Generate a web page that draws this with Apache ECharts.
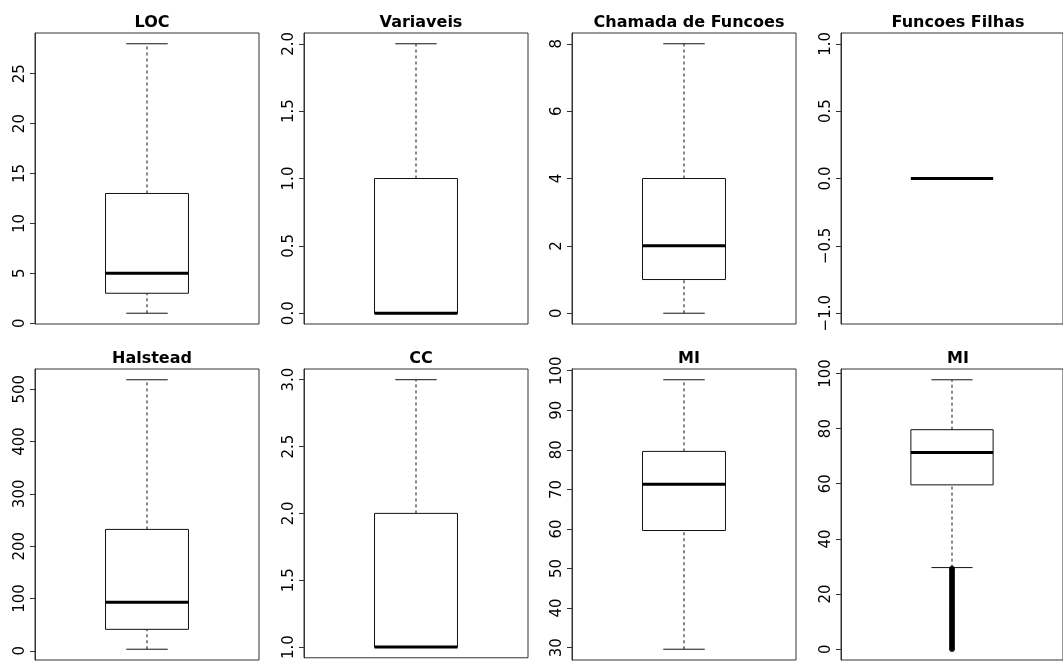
<!DOCTYPE html>
<html>
<head>
<meta charset="utf-8">
<script src="https://cdn.jsdelivr.net/npm/echarts@6/dist/echarts.min.js"></script>
<style>
  html, body { margin: 0; padding: 0; background: #fff; }
  #chart { width: 1063px; height: 662px; }
</style>
</head>
<body>
<div id="chart"></div>
<script>
// Panel titles, in row order (4 per row)
const titles = ['LOC', 'Variaveis', 'Chamada de Funcoes', 'Funcoes Filhas',
                'Halstead', 'CC', 'MI', 'MI'];

// Five-number summaries: [lower whisker, Q1, median, Q3, upper whisker]
const locStats       = [1, 3, 5, 13, 28];
const variaveisStats = [0, 0, 0, 1, 2];
const chamadaStats   = [0, 1, 2, 4, 8];
const filhasStats    = [0, 0, 0, 0, 0];
const halsteadStats  = [3, 41, 93, 232, 518];
const ccStats        = [1, 1, 1, 2, 3];
const miStats        = [29.6, 59.6, 71.3, 79.6, 97.7];

// MI values below the lower whisker (shown only in the last panel)
const miOutliers = [0, 0.3, 0.8, 1.1, 1.7, 2.0, 2.6, 3.1, 3.4, 4.0, 4.3, 4.9,
  5.2, 5.8, 6.3, 6.6, 7.2, 7.5, 8.1, 8.4, 9.0, 9.5, 9.8, 10.4, 10.7, 11.3,
  11.6, 12.2, 12.7, 13.0, 13.6, 13.9, 14.5, 14.8, 15.4, 15.9, 16.2, 16.8,
  17.1, 17.7, 18.0, 18.6, 19.1, 19.4, 20.0, 20.3, 20.9, 21.2, 21.8, 22.3,
  22.6, 23.2, 23.5, 24.1, 24.4, 25.0, 25.5, 25.8, 26.4, 26.7, 27.3, 27.6,
  28.2, 28.7, 29.0, 29.3];

// Tick positions per panel
const locTicks       = [0, 5, 10, 15, 20, 25];
const variaveisTicks = [0, 0.5, 1, 1.5, 2];
const chamadaTicks   = [0, 2, 4, 6, 8];
const filhasTicks    = [-1, -0.5, 0, 0.5, 1];
const halsteadTicks  = [0, 100, 200, 300, 400, 500];
const ccTicks        = [1, 1.5, 2, 2.5, 3];
const miTicks        = [30, 40, 50, 60, 70, 80, 90, 100];
const miFullTicks    = [0, 20, 40, 60, 80, 100];

const panels = [
  { stats: locStats,       ticks: locTicks,       dec: 0, out: [] },
  { stats: variaveisStats, ticks: variaveisTicks, dec: 1, out: [] },
  { stats: chamadaStats,   ticks: chamadaTicks,   dec: 0, out: [] },
  { stats: filhasStats,    ticks: filhasTicks,    dec: 1, out: [] },
  { stats: halsteadStats,  ticks: halsteadTicks,  dec: 0, out: [] },
  { stats: ccStats,        ticks: ccTicks,        dec: 1, out: [] },
  { stats: miStats,        ticks: miTicks,        dec: 0, out: [] },
  { stats: miStats,        ticks: miFullTicks,    dec: 0, out: miOutliers }
];

// Layout of the 2 x 4 plotting regions (the last column runs past the right edge)
const colLeft = [35, 304, 572, 841];
const rowTop = [33, 369];
const plotW = 224, plotH = 291;
const FONT = 'DejaVu Sans';
const INK = '#111';

// Axis range with a 4% pad on each side; a flat range opens to +/-1 first
function yRange(stats, out) {
  const all = stats.concat(out);
  let lo = Math.min.apply(null, all), hi = Math.max.apply(null, all);
  if (lo === hi) { lo -= 1; hi += 1; }
  const pad = 0.04 * (hi - lo);
  return [lo - pad, hi + pad];
}

function fmt(v, dec) {
  return v.toFixed(dec).replace('-', '\u2212');
}

// Box, dashed whiskers, staples and a heavy median line
function renderBox(params, api) {
  const x = api.value(0);
  const lw = api.value(1), q1 = api.value(2), med = api.value(3),
        q3 = api.value(4), uw = api.value(5);
  const p = (dx, v) => api.coord([x + dx, v]);
  const thin = { stroke: INK, lineWidth: 1, fill: null };
  const dash = { stroke: INK, lineWidth: 1, lineDash: [3, 3], fill: null };
  const seg = (a, b, style) => ({
    type: 'line',
    shape: { x1: a[0], y1: a[1], x2: b[0], y2: b[1] },
    style: style
  });
  const tl = p(-0.2, q3), br = p(0.2, q1);
  const children = [
    seg(p(0, q3), p(0, uw), dash),
    seg(p(0, lw), p(0, q1), dash),
    seg(p(-0.1, uw), p(0.1, uw), thin),
    seg(p(-0.1, lw), p(0.1, lw), thin),
    {
      type: 'rect',
      shape: { x: tl[0], y: tl[1], width: br[0] - tl[0], height: br[1] - tl[1] },
      style: { fill: '#fff', stroke: INK, lineWidth: 1 }
    },
    seg(p(-0.2, med), p(0.2, med), { stroke: '#000', lineWidth: 3, fill: null })
  ];
  return { type: 'group', children: children };
}

const grid = [], xAxis = [], yAxis = [], series = [], title = [];

panels.forEach((pn, i) => {
  const col = i % 4, row = Math.floor(i / 4);
  const [ymin, ymax] = yRange(pn.stats, pn.out);
  const g = {
    left: colLeft[col], top: rowTop[row], height: plotH,
    show: true, borderColor: '#333', borderWidth: 1, backgroundColor: 'transparent'
  };
  if (col === 3) g.right = 1063 - colLeft[col] - plotW; else g.width = plotW;
  grid.push(g);
  xAxis.push({
    type: 'value', gridIndex: i, min: 0.46, max: 1.54,
    show: false, splitLine: { show: false }
  });
  yAxis.push({
    type: 'value', gridIndex: i, min: ymin, max: ymax,
    splitLine: { show: false },
    axisLine: { show: true, lineStyle: { color: '#333', width: 1 } },
    axisTick: { show: true, length: 5, customValues: pn.ticks,
                lineStyle: { color: '#333', width: 1 } },
    axisLabel: {
      show: true, customValues: pn.ticks, rotate: 90, margin: 7,
      fontFamily: FONT, fontSize: 15, color: '#000',
      formatter: (v) => fmt(v, pn.dec)
    }
  });
  title.push({
    text: titles[i],
    left: colLeft[col] + plotW / 2, textAlign: 'center',
    top: rowTop[row] - 23,
    textStyle: { fontFamily: FONT, fontWeight: 'bold', fontSize: 16, color: '#000' }
  });
  series.push({
    type: 'custom', xAxisIndex: i, yAxisIndex: i,
    renderItem: renderBox, clip: false, silent: true,
    encode: { x: 0, y: [1, 2, 3, 4, 5] },
    data: [[1].concat(pn.stats)]
  });
  if (pn.out.length) {
    series.push({
      type: 'scatter', xAxisIndex: i, yAxisIndex: i, silent: true,
      symbol: 'circle', symbolSize: 5.5,
      itemStyle: { color: '#000' },
      data: pn.out.map(v => [1, v])
    });
  }
});

const chart = echarts.init(document.getElementById('chart'), null, { renderer: 'canvas' });
chart.setOption({
  animation: false,
  backgroundColor: '#fff',
  title: title,
  grid: grid,
  xAxis: xAxis,
  yAxis: yAxis,
  series: series
});
</script>
</body>
</html>
